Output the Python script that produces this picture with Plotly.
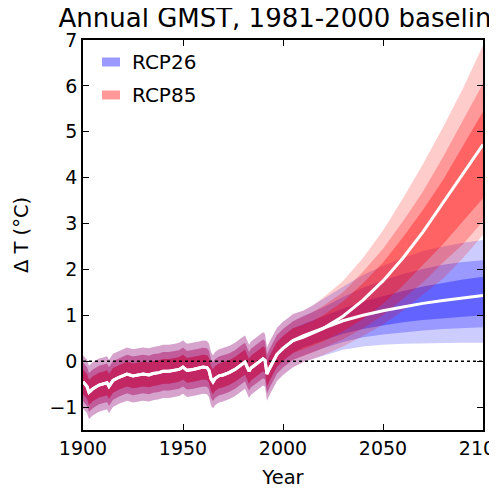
import plotly.graph_objects as go

# ---------------- data ----------------
hist_years = [1900, 1902, 1903, 1905, 1908, 1910, 1912, 1913, 1915, 1918, 1920, 1922, 1925,
              1928, 1930, 1933, 1935, 1938, 1940, 1943, 1946, 1948, 1950, 1952, 1955, 1958,
              1960, 1962, 1963, 1964, 1965, 1966, 1968, 1970, 1973, 1976, 1979, 1981, 1982,
              1983, 1984, 1986, 1988, 1990, 1991, 1992, 1993, 1995, 1997, 2000, 2003, 2005]
hist_median = [-0.45, -0.55, -0.68, -0.60, -0.52, -0.50, -0.47, -0.55, -0.42, -0.35, -0.32,
               -0.28, -0.32, -0.30, -0.28, -0.30, -0.27, -0.25, -0.22, -0.22, -0.20, -0.18,
               -0.13, -0.20, -0.18, -0.15, -0.13, -0.14, -0.20, -0.38, -0.45, -0.38, -0.32,
               -0.30, -0.25, -0.18, -0.08, -0.02, -0.12, -0.22, -0.15, -0.08, -0.02, 0.05,
               0.02, -0.28, -0.18, 0.00, 0.15, 0.28, 0.38, 0.45]
# half widths of the historical bands (inner, middle, outer)
hist_half = [0.27, 0.42, 0.58]

fut_years = [2005, 2010, 2015, 2020, 2030, 2040, 2050, 2060, 2070, 2080, 2090, 2100]

rcp26_p50 = [0.45, 0.55, 0.63, 0.72, 0.88, 1.00, 1.10, 1.18, 1.26, 1.32, 1.38, 1.43]
rcp26_p33 = [0.18, 0.30, 0.37, 0.45, 0.60, 0.70, 0.78, 0.85, 0.90, 0.94, 0.97, 1.00]
rcp26_p67 = [0.72, 0.80, 0.89, 0.98, 1.15, 1.30, 1.42, 1.53, 1.63, 1.71, 1.78, 1.84]
rcp26_p17 = [0.03, 0.12, 0.20, 0.28, 0.42, 0.52, 0.58, 0.63, 0.67, 0.70, 0.72, 0.74]
rcp26_p83 = [0.87, 0.98, 1.08, 1.17, 1.40, 1.60, 1.76, 1.90, 2.01, 2.10, 2.16, 2.20]
rcp26_p05 = [-0.13, -0.02, 0.05, 0.12, 0.25, 0.32, 0.36, 0.38, 0.39, 0.40, 0.40, 0.40]
rcp26_p95 = [1.03, 1.10, 1.22, 1.35, 1.62, 1.88, 2.08, 2.25, 2.40, 2.50, 2.58, 2.64]

rcp85_p50 = [0.45, 0.52, 0.61, 0.71, 0.98, 1.33, 1.75, 2.25, 2.82, 3.45, 4.08, 4.72]
rcp85_p33 = [0.18, 0.26, 0.34, 0.43, 0.65, 0.92, 1.25, 1.65, 2.10, 2.55, 3.05, 3.55]
rcp85_p67 = [0.72, 0.79, 0.88, 1.00, 1.30, 1.70, 2.15, 2.70, 3.30, 3.95, 4.70, 5.44]
rcp85_p17 = [0.03, 0.11, 0.19, 0.28, 0.48, 0.72, 1.00, 1.35, 1.72, 2.15, 2.55, 3.05]
rcp85_p83 = [0.87, 0.97, 1.07, 1.20, 1.50, 1.95, 2.45, 3.05, 3.70, 4.45, 5.25, 6.05]
rcp85_p05 = [-0.13, -0.03, 0.05, 0.13, 0.32, 0.55, 0.80, 1.10, 1.45, 1.80, 2.25, 2.75]
rcp85_p95 = [1.03, 1.10, 1.22, 1.38, 1.75, 2.25, 2.85, 3.55, 4.30, 5.10, 5.95, 6.88]

scenario_names = ["RCP26", "RCP85"]
x_ticks = [1900, 1950, 2000, 2050, 2100]
y_ticks = [-1, 0, 1, 2, 3, 4, 5, 6, 7]

# ---------------- figure ----------------
fig = go.Figure()

scenarios = [
    (scenario_names[0], (0, 0, 255), rcp26_p50,
     [(rcp26_p05, rcp26_p95), (rcp26_p17, rcp26_p83), (rcp26_p33, rcp26_p67)]),
    (scenario_names[1], (255, 0, 0), rcp85_p50,
     [(rcp85_p05, rcp85_p95), (rcp85_p17, rcp85_p83), (rcp85_p33, rcp85_p67)]),
]
alphas = [0.2, 0.25, 0.35]          # outer, middle, inner layers (stacked)
half_order = [hist_half[2], hist_half[1], hist_half[0]]

all_years = hist_years + fut_years[1:]
medians = {}
for name, rgb, p50, bands in scenarios:
    medians[name] = hist_median + p50[1:]
    for (lo, hi), a, h in zip(bands, alphas, half_order):
        lo_full = [m - h for m in hist_median] + lo[1:]
        hi_full = [m + h for m in hist_median] + hi[1:]
        fig.add_trace(go.Scatter(
            x=all_years + all_years[::-1],
            y=lo_full + hi_full[::-1],
            fill="toself",
            fillcolor=f"rgba({rgb[0]},{rgb[1]},{rgb[2]},{a})",
            line=dict(width=0),
            mode="lines",
            hoverinfo="skip",
            showlegend=False,
        ))

# zero line (dotted)
fig.add_trace(go.Scatter(
    x=[1900, 2100], y=[0, 0], mode="lines",
    line=dict(color="black", width=1.5, dash="dot"),
    showlegend=False, hoverinfo="skip",
))

# medians
for name, rgb, p50, bands in scenarios:
    fig.add_trace(go.Scatter(
        x=all_years, y=medians[name], mode="lines",
        line=dict(color="white", width=3),
        showlegend=False, hoverinfo="skip",
    ))

font_family = "DejaVu Sans"

# legend (patches + labels, matplotlib style)
legend_rows = [0.9436, 0.859]
for (name, rgb, p50, bands), yc in zip(scenarios, legend_rows):
    fig.add_shape(type="rect", xref="paper", yref="paper",
                  x0=0.0475, x1=0.0925, y0=yc - 0.0115, y1=yc + 0.0115,
                  fillcolor=f"rgba({rgb[0]},{rgb[1]},{rgb[2]},0.4)",
                  line=dict(width=0), layer="above")
    fig.add_annotation(text=name, xref="paper", yref="paper",
                       x=0.1175, y=yc, xanchor="left", yanchor="middle",
                       showarrow=False,
                       font=dict(family=font_family, size=20, color="black"))

axis_common = dict(
    showline=True, linecolor="black", linewidth=1.5, mirror="ticks",
    ticks="inside", ticklen=6, tickwidth=1, tickcolor="black",
    showgrid=False, zeroline=False, ticklabeloverflow="allow",
    tickfont=dict(family=font_family, size=19, color="black"),
)

# page body has an 8px margin: figure is shifted by (8, 8)
fig.update_layout(
    width=489, height=481,
    margin=dict(l=75, r=14, t=32, b=59, autoexpand=False),
    paper_bgcolor="white", plot_bgcolor="white",
    font=dict(family=font_family, color="black"),
    title=dict(text="Annual GMST, 1981-2000 baseline",
               x=0.5, xref="paper", xanchor="center",
               y=1 - 19 / 481, yref="container", yanchor="bottom",
               pad=dict(t=0, b=0, l=0, r=0),
               font=dict(family=font_family, size=26, color="black")),
    xaxis=dict(range=[1900, 2100], tickvals=x_ticks,
               title=dict(text="Year", font=dict(family=font_family, size=19.5, color="black"),
                          standoff=14),
               **axis_common),
    yaxis=dict(range=[-1.5, 7], tickvals=y_ticks,
               title=dict(text="Δ T (°C)", font=dict(family=font_family, size=19.5, color="black"),
                          standoff=16),
               **axis_common),
    showlegend=False,
)

fig.write_html("out.html")
